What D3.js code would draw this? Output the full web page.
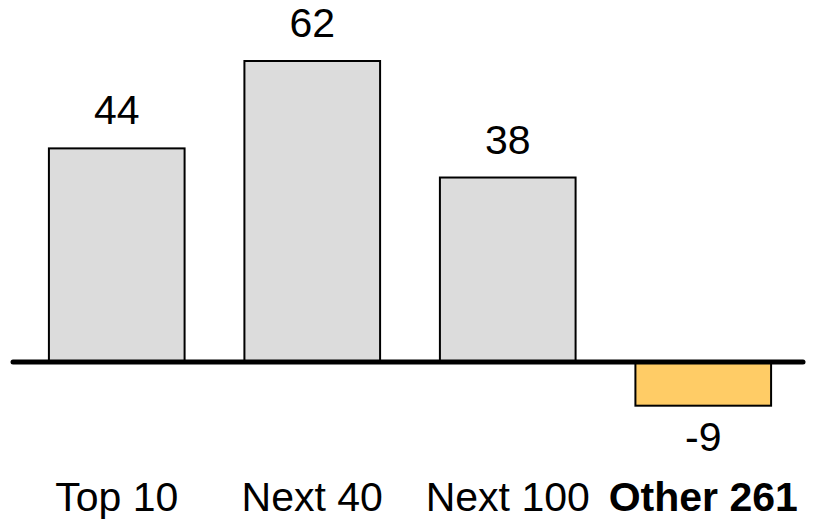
<!DOCTYPE html>
<html>
<head>
<meta charset="utf-8">
<script src="https://cdn.jsdelivr.net/npm/d3@7"></script>
<style>
  html, body { margin: 0; padding: 0; background: #fff; }
  svg { display: block; }
  text { font-family: "Liberation Sans", Arial, sans-serif; }
</style>
</head>
<body>
<svg id="chart" width="819" height="521"></svg>
<script>
// Change by group
const categories = ["Top 10", "Next 40", "Next 100", "Other 261"];
const values = [44, 62, 38, -9];
const boldCategories = ["Other 261"];

const svg = d3.select("#chart");

const x = d3.scaleBand()
  .domain(categories)
  .range([19, 801])
  .paddingInner(0.306)
  .paddingOuter(0.153);

const y = d3.scaleLinear()
  .domain([0, 62])
  .range([362, 61]);

const fillFor = v => v < 0 ? "#ffcc66" : "#dcdcdc";

// Bars
svg.append("g")
  .selectAll("rect")
  .data(values)
  .join("rect")
  .attr("x", (d, i) => x(categories[i]))
  .attr("width", x.bandwidth())
  .attr("y", d => y(Math.max(0, d)))
  .attr("height", d => Math.abs(y(d) - y(0)))
  .attr("fill", fillFor)
  .attr("stroke", "#000")
  .attr("stroke-width", 2);

// Baseline
svg.append("line")
  .attr("x1", 13)
  .attr("x2", 803)
  .attr("y1", y(0))
  .attr("y2", y(0))
  .attr("stroke", "#000")
  .attr("stroke-width", 5)
  .attr("stroke-linecap", "round");

// Value labels
svg.append("g")
  .selectAll("text")
  .data(values)
  .join("text")
  .attr("x", (d, i) => x(categories[i]) + x.bandwidth() / 2)
  .attr("y", d => d >= 0 ? y(d) - 24 : y(d) + 45)
  .attr("text-anchor", "middle")
  .attr("font-size", 41)
  .attr("fill", "#000")
  .text(d => d);

// Category labels
svg.append("g")
  .selectAll("text")
  .data(categories)
  .join("text")
  .attr("x", d => x(d) + x.bandwidth() / 2)
  .attr("y", 511)
  .attr("text-anchor", "middle")
  .attr("font-size", 41)
  .attr("font-weight", d => boldCategories.includes(d) ? "bold" : "normal")
  .attr("fill", "#000")
  .text(d => d);
</script>
</body>
</html>
